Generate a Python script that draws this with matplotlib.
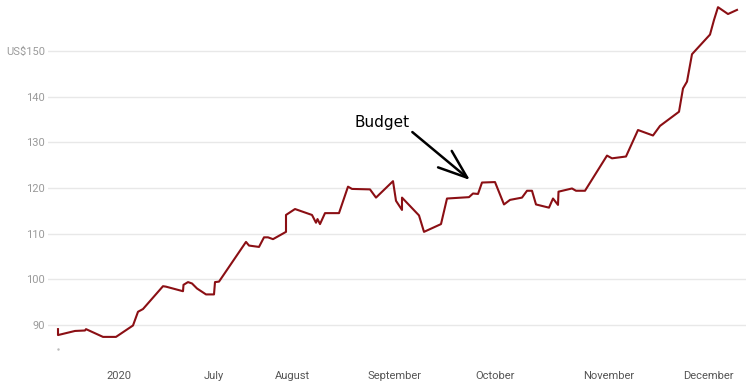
import matplotlib.pyplot as plt

# positions along the time axis and price in US$
pos = [58, 58, 75, 85, 86, 103, 116, 133, 138, 143, 163, 166, 183, 183.5, 188, 192,
       197, 206, 214, 215, 219, 246, 249, 259, 264, 268, 273, 286, 286, 295, 312,
       316, 317.5, 320, 325, 339, 348, 352, 370, 376, 393, 396, 402, 402, 419, 424,
       441, 447, 469, 473, 478, 482, 495, 504, 510, 522, 527, 532, 536, 549, 553,
       558, 558.5, 572, 576, 585, 607, 612, 626, 638, 653, 660, 679, 683, 687, 692,
       710, 714, 718, 728, 737]
price = [89.1, 87.8, 88.7, 88.8, 89.1, 87.4, 87.4, 89.9, 92.9, 93.5, 98.5, 98.4,
         97.4, 98.8, 99.4, 99.1, 98.0, 96.7, 96.7, 99.4, 99.5, 108.2, 107.4, 107.1,
         109.2, 109.2, 108.8, 110.4, 114.1, 115.4, 114.1, 112.4, 113.2, 112.1, 114.5,
         114.5, 120.3, 119.8, 119.7, 117.9, 121.5, 117.2, 115.2, 117.9, 114.0, 110.4,
         112.1, 117.7, 118.0, 118.8, 118.7, 121.2, 121.3, 116.4, 117.4, 117.9, 119.4,
         119.4, 116.4, 115.7, 117.7, 116.3, 119.2, 119.9, 119.4, 119.4, 127.1, 126.5,
         126.9, 132.7, 131.5, 133.6, 136.7, 141.8, 143.3, 149.3, 153.6, 156.8, 159.6,
         158.1, 159.0]

month_pos = [119, 214, 292, 394, 495, 609, 708]
month_labels = ["2020", "July", "August", "September", "October", "November", "December"]

y_ticks = [90, 100, 110, 120, 130, 140, 150]
y_labels = ["90", "100", "110", "120", "130", "140", "US$150"]

# budget annotation target
budget_pos, budget_val = 470, 121.75

fig = plt.figure(figsize=(7.54, 3.90), dpi=100)
ax = fig.add_axes([48 / 754, 30 / 390, 698 / 754, 360 / 390])

ax.plot(pos, price, color="#8b0f14", lw=1.5, zorder=3)
ax.plot([58], [84.7], ".", color="#bbbbbb", ms=1.5)

ax.set_xlim(48, 746)
ax.set_ylim(82.34, 161.17)

ax.set_yticks(y_ticks)
ax.set_yticklabels(y_labels)
ax.set_xticks(month_pos)
ax.set_xticklabels(month_labels)
ax.tick_params(axis="y", length=0, pad=2, labelsize=8, labelcolor="#9a9a9a")
ax.tick_params(axis="x", length=0, pad=8, labelsize=8, labelcolor="#555555")
for lab in ax.get_xticklabels() + ax.get_yticklabels():
    lab.set_family("Roboto")

ax.grid(axis="y", color="#e8e8e8", lw=1)
ax.set_axisbelow(True)
for s in ax.spines.values():
    s.set_visible(False)

ax.annotate("Budget", xy=(budget_pos, budget_val), xytext=(382, 134.4),
            fontsize=11, ha="center", va="center", color="black",
            arrowprops=dict(arrowstyle="->,head_length=1.9,head_width=0.7",
                            color="black", lw=1.8, relpos=(1.0, 0.0),
                            shrinkA=0, shrinkB=0))

fig.savefig("out.png", dpi=100)
